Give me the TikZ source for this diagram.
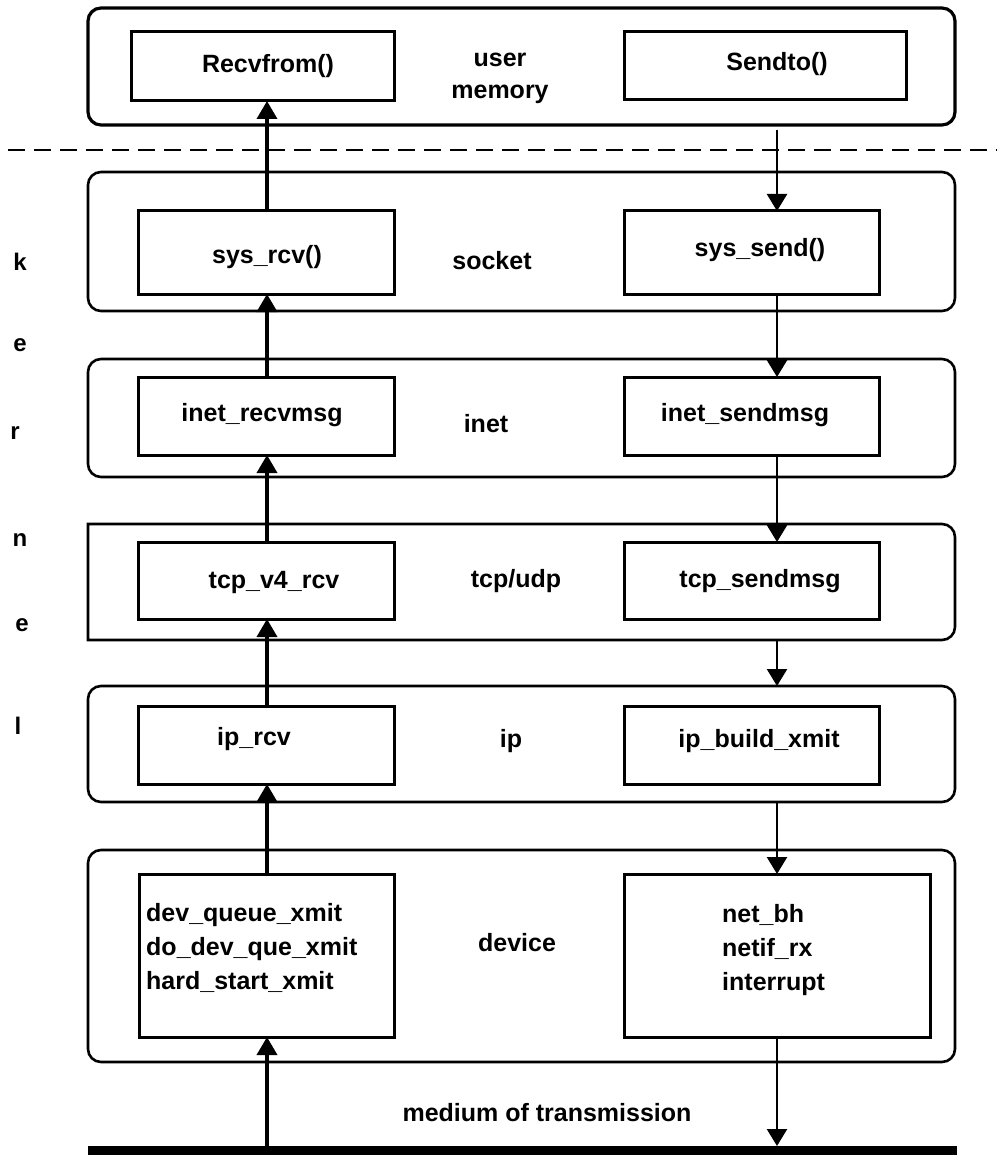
\documentclass[tikz,border=0pt]{standalone}
\usepackage{fontspec}
\setmainfont{Liberation Sans}
\usetikzlibrary{arrows.meta,calc}
\begin{document}
\begin{tikzpicture}[x=1pt,y=-1pt,
  layer/.style={draw, line width=2.6pt, rounded corners=13pt, inner sep=0pt,
    outer sep=0pt, minimum width=867pt},
  fbox/.style={draw, line width=3pt, inner sep=0pt, outer sep=0pt},
  lbl/.style={font=\fontsize{25}{32}\selectfont\bfseries, inner sep=0pt},
  kl/.style={font=\fontsize{24}{28}\selectfont\bfseries, inner sep=0pt},
  upflow/.style={line width=3.6pt, -{Triangle[length=18pt,width=20pt]}},
  downflow/.style={line width=2.4pt, -{Triangle[length=17pt,width=20pt]}}]
\useasboundingbox (0,0) rectangle (997,1155);

% layers
\node[layer, line width=3.2pt, minimum height=117pt] (userlayer) at (521.5,66.5) {};
\node[layer, minimum height=139pt] (socketlayer) at (521.5,241.5) {};
\node[layer, minimum height=118pt] (inetlayer) at (521.5,418) {};
\node[minimum width=867pt, minimum height=116pt, inner sep=0pt, outer sep=0pt] (tcplayer) at (521.5,582) {};
\draw[line width=2.6pt] (tcplayer.south west) -- (tcplayer.north west)
  -- ($(tcplayer.north east)+(-13,0)$) arc[start angle=90,end angle=0,radius=13pt]
  -- ($(tcplayer.south east)+(0,-13)$) arc[start angle=0,end angle=-90,radius=13pt]
  -- cycle;
\node[layer, minimum height=116pt] (iplayer) at (521.5,744) {};
\node[layer, minimum height=212pt] (devlayer) at (521.5,956) {};

% user / kernel boundary
\coordinate (dashL) at (8,150);
\coordinate (dashR) at (997,150);
\draw[line width=2pt, dash pattern=on 17pt off 9pt] (dashL) -- (dashR);

% function boxes
\node[fbox, minimum width=263pt, minimum height=69pt] (recv) at (262.5,66.5) {};
\node[fbox, minimum width=282pt, minimum height=68pt] (sendto) at (765,66) {};
\node[fbox, minimum width=256pt, minimum height=83pt] (sysrcv) at (266,252.5) {};
\node[fbox, minimum width=255pt, minimum height=83pt] (syssend) at (751.5,252.5) {};
\node[fbox, minimum width=256pt, minimum height=78pt] (inetr) at (266,416) {};
\node[fbox, minimum width=255pt, minimum height=78pt] (inets) at (751.5,416) {};
\node[fbox, minimum width=256pt, minimum height=77pt] (tcpr) at (266,580.5) {};
\node[fbox, minimum width=255pt, minimum height=77pt] (tcps) at (751.5,580.5) {};
\node[fbox, minimum width=256pt, minimum height=78pt] (ipr) at (266,745) {};
\node[fbox, minimum width=255pt, minimum height=78pt] (ips) at (751.5,745) {};
\node[fbox, minimum width=255pt, minimum height=163pt] (devL) at (266.5,955.5) {};
\node[fbox, minimum width=306pt, minimum height=163pt] (devR) at (777,955.5) {};

% transmission medium
\node[fill, inner sep=0pt, outer sep=0pt, minimum width=869pt, minimum height=9pt] (bar) at (522.5,1150.5) {};

% box texts
\node[lbl] (recvT) at (268,66) {Recvfrom()};
\node[lbl] (sendtoT) at (777,64) {Sendto()};
\node[lbl] (sysrcvT) at (267,257) {sys\_rcv()};
\node[lbl] (syssendT) at (760,250) {sys\_send()};
\node[lbl] (inetrT) at (262,415) {inet\_recvmsg};
\node[lbl] (inetsT) at (745,415) {inet\_sendmsg};
\node[lbl] (tcprT) at (274,582) {tcp\_v4\_rcv};
\node[lbl] (tcpsT) at (760,581) {tcp\_sendmsg};
\node[lbl] (iprT) at (254,739) {ip\_rcv};
\node[lbl] (ipsT) at (759,741) {ip\_build\_xmit};
\node[lbl, align=left, anchor=west, font=\fontsize{25}{34}\selectfont\bfseries] (devLT) at (146,948)
  {dev\_queue\_xmit\\do\_dev\_que\_xmit\\hard\_start\_xmit};
\node[lbl, align=left, anchor=west, font=\fontsize{25}{34}\selectfont\bfseries] (devRT) at (722,950)
  {net\_bh\\netif\_rx\\interrupt};

% layer names
\node[lbl, align=center] (userT) at (500,78) {user\\memory};
\node[lbl] (socketT) at (492,261) {socket};
\node[lbl] (inetT) at (486,424) {inet};
\node[lbl] (tcpT) at (516,581) {tcp/udp};
\node[lbl] (ipT) at (511,741) {ip};
\node[lbl] (devT) at (517,943) {device};
\node[lbl] (mediumT) at (547,1113) {medium of transmission};

% kernel, spelled down the left margin
\node[kl] (k1) at (20,262) {k};
\node[kl] (k2) at (20,345) {e};
\node[kl] (k3) at (15,433) {r};
\node[kl] (k4) at (20,540) {n};
\node[kl] (k5) at (22,625) {e};
\node[kl] (k6) at (18,726) {l};

% receive path (left) and send path (right)
\coordinate (lx) at (267,0);
\coordinate (rx) at (777,0);
\draw[upflow] (bar.north -| lx) -- (devL.south -| lx);
\draw[upflow] (devL.north -| lx) -- (ipr.south -| lx);
\draw[upflow] (ipr.north -| lx) -- (tcpr.south -| lx);
\draw[upflow] (tcpr.north -| lx) -- (inetr.south -| lx);
\draw[upflow] (inetr.north -| lx) -- (sysrcv.south -| lx);
\draw[upflow] (sysrcv.north -| lx) -- (recv.south -| lx);

\draw[downflow] ($(userlayer.south -| rx)+(0,5)$) -- (syssend.north -| rx);
\draw[downflow] (syssend.south -| rx) -- (inets.north -| rx);
\draw[downflow] (inets.south -| rx) -- (tcps.north -| rx);
\draw[downflow] (tcplayer.south -| rx) -- (iplayer.north -| rx);
\draw[downflow] (iplayer.south -| rx) -- (devR.north -| rx);
\draw[downflow] (devR.south -| rx) -- (bar.north -| rx);
\end{tikzpicture}
\end{document}
